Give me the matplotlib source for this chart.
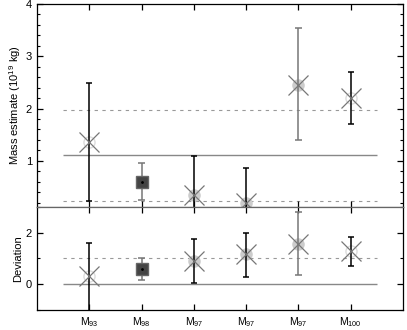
import matplotlib
matplotlib.use('Agg')
import matplotlib.pyplot as plt
from matplotlib.ticker import MultipleLocator

plt.rcParams['font.family'] = ['Liberation Sans', 'DejaVu Sans']
plt.rcParams['mathtext.fontset'] = 'custom'
plt.rcParams['mathtext.rm'] = 'Liberation Sans'

labels = ['93', '98', '97', '97', '97', '100']
# top panel: mass estimate
mass = [1.36, 0.60, 0.35, 0.19, 2.46, 2.20]
mass_lo = [0.23, 0.25, -0.40, -0.50, 1.40, 1.71]
mass_hi = [2.49, 0.96, 1.10, 0.87, 3.54, 2.70]
mass_mean = 1.11
mass_band = [0.24, 1.97]
# bottom panel: deviation
dev = [0.32, 0.58, 0.91, 1.17, 1.57, 1.30]
dev_lo = [-1.10, 0.16, 0.03, 0.29, 0.36, 0.71]
dev_hi = [1.60, 1.01, 1.76, 2.00, 2.82, 1.84]
# marker style per point
kind = ['open', 'square', 'filled', 'filled', 'filled', 'open']
bar_col = ['black', '#777777', 'black', 'black', '#777777', 'black']

fig = plt.figure(figsize=(4.07, 3.30), dpi=100)
ax1 = fig.add_axes([0.091, 0.373, 0.899, 0.615])
ax2 = fig.add_axes([0.091, 0.061, 0.899, 0.312])

x = list(range(1, len(labels) + 1))


def draw(ax, vals, lo, hi):
    for xi, v, l, h, k, c in zip(x, vals, lo, hi, kind, bar_col):
        ax.vlines(xi, l, h, color=c, lw=1.1, zorder=2)
        ax.hlines([l, h], xi - 0.06, xi + 0.06, color=c, lw=1.1, zorder=2)
        if k == 'square':
            ax.plot(xi, v, 's', ms=8, mfc='#444444', mec='#666666', zorder=3)
            ax.plot(xi, v, '.', ms=2, color='black', zorder=4)
        else:
            if k == 'filled':
                ax.plot(xi, v, 'o', ms=8, mfc='#cccccc', mec='#cccccc', zorder=1)
            else:
                ax.plot(xi, v, 'o', ms=8, mfc='none', mec='#dddddd', mew=1, zorder=1)
            ax.plot(xi, v, 'x', ms=15, mew=0.9, color='#777777', zorder=3)


draw(ax1, mass, mass_lo, mass_hi)
ax1.hlines(mass_mean, 0.5, 6.5, color='#888888', lw=1, zorder=0)
ax1.hlines(mass_band, 0.5, 6.5, color='#999999', lw=0.8, ls=(0, (3, 4)), zorder=0)
ax1.set_xlim(0, 7)
ax1.set_ylim(0.12, 4)
ax1.yaxis.set_major_locator(MultipleLocator(1))
ax1.yaxis.set_minor_locator(MultipleLocator(0.2))
ax1.set_ylabel('Mass estimate (10$^{19}$ kg)', fontsize=8, labelpad=2)

draw(ax2, dev, dev_lo, dev_hi)
ax2.hlines(0, 0.5, 6.5, color='#888888', lw=1, zorder=0)
ax2.hlines(1, 0.5, 6.5, color='#999999', lw=0.8, ls=(0, (3, 4)), zorder=0)
ax2.set_xlim(0, 7)
ax2.set_ylim(-1, 3)
ax2.yaxis.set_major_locator(MultipleLocator(2))
ax2.yaxis.set_minor_locator(MultipleLocator(1))
ax2.set_ylabel('Deviation', fontsize=8, labelpad=2)

for ax in (ax1, ax2):
    ax.set_xticks(x)
    ax.tick_params(direction='in', top=True, right=True, labelsize=8,
                   length=4, width=0.9)
    ax.tick_params(which='minor', direction='in', right=True, left=True,
                   length=2.5, width=0.8)
    for s in ax.spines.values():
        s.set_linewidth(0.9)
ax1.set_xticklabels([])
ax1.spines['bottom'].set_color('#666666')
ax2.spines['top'].set_color('#666666')
ax2.set_xticklabels([f'M$_{{{l}}}$' for l in labels], fontsize=7.5)
ax2.tick_params(axis='x', pad=4)

fig.align_ylabels([ax1, ax2])
fig.savefig('out.png', dpi=100)
